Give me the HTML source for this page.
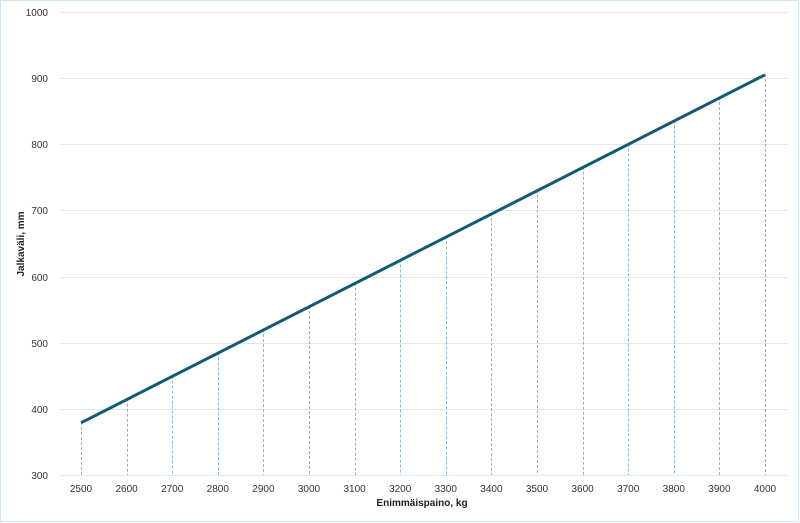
<!DOCTYPE html>
<html><head><meta charset="utf-8"><style>
html,body{margin:0;padding:0;background:#fff}
svg{display:block;font-family:"Liberation Sans",sans-serif}
</style></head><body>
<svg width="800" height="523" viewBox="0 0 800 523">
<rect x="0.5" y="0.5" width="798" height="521" fill="#fff" stroke="#d3e2f0"/>
<g stroke="#dde8f3" stroke-width="1">
<line x1="60" x2="788" y1="12.5" y2="12.5"/>
<line x1="60" x2="788" y1="78.5" y2="78.5"/>
<line x1="60" x2="788" y1="144.5" y2="144.5"/>
<line x1="60" x2="788" y1="210.5" y2="210.5"/>
<line x1="60" x2="788" y1="277.5" y2="277.5"/>
<line x1="60" x2="788" y1="343.5" y2="343.5"/>
<line x1="60" x2="788" y1="409.5" y2="409.5"/>
<line x1="60" x2="788" y1="475.5" y2="475.5"/>
</g>
<g font-size="10" fill="#333" text-anchor="end">
<text x="48" y="16">1000</text><text x="48" y="82">900</text><text x="48" y="148">800</text>
<text x="48" y="214">700</text><text x="48" y="281">600</text><text x="48" y="347">500</text>
<text x="48" y="413">400</text><text x="48" y="479">300</text>
</g>
<g id="d" stroke="#8ab4dc" stroke-width="1" stroke-dasharray="3,2"></g>
<g font-size="10" fill="#333" text-anchor="middle" id="xl"></g>
<line x1="81" y1="422.8" x2="765" y2="74.8" stroke="#135a75" stroke-width="3"/>
<text x="422" y="506" font-size="10" font-weight="bold" fill="#222" text-anchor="middle">Enimmäispaino, kg</text>
<text transform="translate(24,244) rotate(-90)" font-size="10" font-weight="bold" fill="#222" text-anchor="middle">Jalkaväli, mm</text>
<script>
var d=document.getElementById('d'),xl=document.getElementById('xl'),ns='http://www.w3.org/2000/svg';
for(var i=0;i<=15;i++){var x=81+i*45.6,v=380+35*i,y=475-(v-300)*0.6629,xr=Math.round(x)+0.5;
var l=document.createElementNS(ns,'line');l.setAttribute('x1',xr);l.setAttribute('x2',xr);l.setAttribute('y1',y);l.setAttribute('y2',475);d.appendChild(l);
var t=document.createElementNS(ns,'text');t.setAttribute('x',x);t.setAttribute('y',492);t.textContent=2500+i*100;xl.appendChild(t);}
</script>
</svg>
</body></html>
